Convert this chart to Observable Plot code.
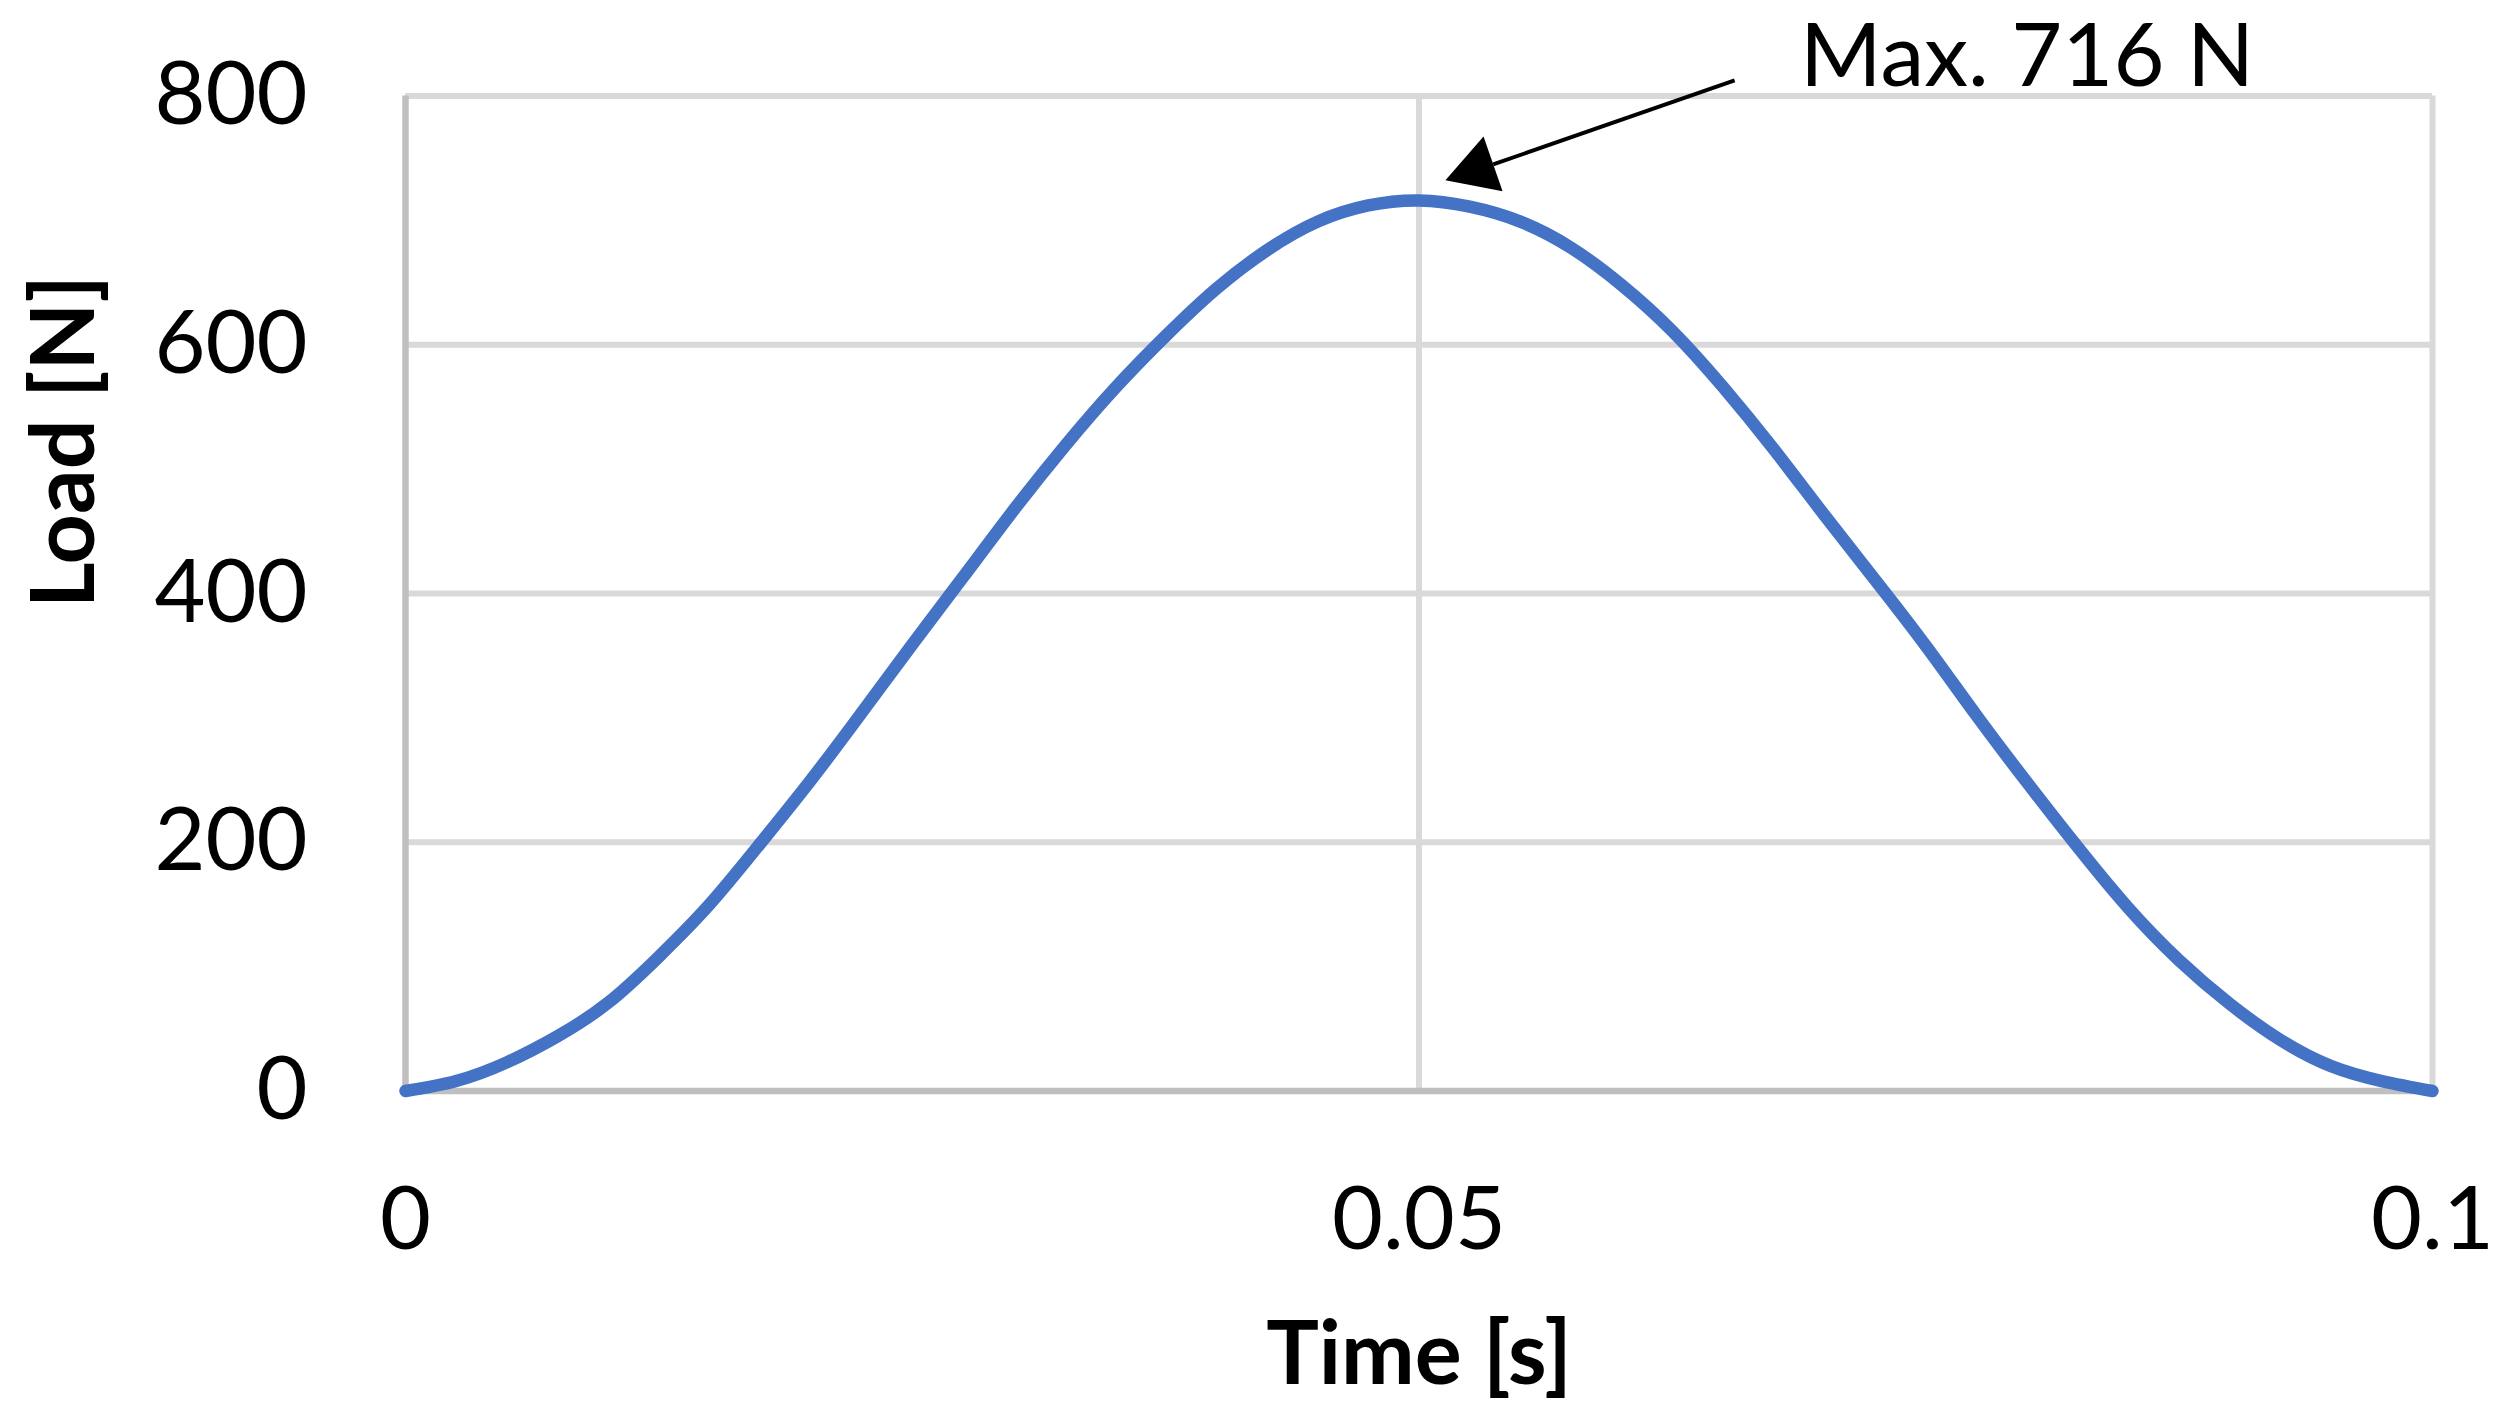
<!DOCTYPE html>
<html>
<head>
<meta charset="utf-8">
<script src="https://cdn.jsdelivr.net/npm/d3@7"></script>
<script src="https://cdn.jsdelivr.net/npm/@observablehq/plot@0.6"></script>
<style>
  html, body { margin: 0; padding: 0; background: #ffffff; }
  svg { display: block; }
</style>
</head>
<body>
<div id="chart"></div>
<script>
// ---- data ----
const time = [0, 0.0025, 0.005, 0.0075, 0.01, 0.0125, 0.015, 0.0175, 0.02, 0.0225,
  0.025, 0.0275, 0.03, 0.0325, 0.035, 0.0375, 0.04, 0.0425, 0.045, 0.0475,
  0.05, 0.0525, 0.055, 0.0575, 0.06, 0.0625, 0.065, 0.0675, 0.07, 0.0725,
  0.075, 0.0775, 0.08, 0.0825, 0.085, 0.0875, 0.09, 0.0925, 0.095, 0.0975, 0.1];
const load = [0, 8, 23, 44, 71, 108, 150, 199, 250, 304,
  359, 413, 467, 518, 565, 607, 645, 676, 699, 712,
  716, 711, 699, 678, 648, 611, 566, 516, 463, 411,
  358, 302, 248, 196, 147, 105, 70, 41, 20, 8, 0];

const xTicks = [0, 0.05, 0.1];
const yTicks = [0, 200, 400, 600, 800];
const xLabel = "Time [s]";
const yLabel = "Load [N]";

// annotation (data coordinates)
const noteText = ["Max. 716 N"];
const noteX = [0.0688];
const noteY = [808];
const arrowX1 = [0.06557];
const arrowY1 = [812.5];
const arrowX2 = [0.05366];
const arrowY2 = [745];
const headX = [0.05287];
const headY = [741];

const series = time.map((t, i) => ({t, v: load[i]}));
const note = noteText.map((s, i) => ({s, x: noteX[i], y: noteY[i]}));
const arrow = arrowX1.map((d, i) => ({x1: d, y1: arrowY1[i], x2: arrowX2[i], y2: arrowY2[i]}));
const head = headX.map((d, i) => ({x: d, y: headY[i]}));

const chart = Plot.plot({
  width: 2508,
  height: 1421,
  marginLeft: 405,
  marginRight: 76,
  marginTop: 95.5,
  marginBottom: 330.5,
  style: {fontFamily: "Lato, 'Open Sans', sans-serif", fontSize: "88px", color: "#000", background: "#fff"},
  x: {domain: [0, 0.1]},
  y: {domain: [0, 800]},
  marks: [
    Plot.ruleY(yTicks.filter(d => d > 0), {stroke: "#d9d9d9", strokeWidth: 6}),
    Plot.ruleX(xTicks.filter(d => d > 0), {stroke: "#d9d9d9", strokeWidth: 6}),
    Plot.ruleY([0], {stroke: "#bfbfbf", strokeWidth: 6.5}),
    Plot.ruleX([0], {stroke: "#bfbfbf", strokeWidth: 6.5}),
    Plot.line(series, {x: "t", y: "v", curve: "natural", stroke: "#4472c4", strokeWidth: 12.5, strokeLinecap: "round", strokeLinejoin: "round"}),
    Plot.link(arrow, {x1: "x1", y1: "y1", x2: "x2", y2: "y2", stroke: "#000", strokeWidth: 4}),
    Plot.dot(head, {x: "x", y: "y", symbol: "triangle", r: 21.6, fill: "#000", stroke: "none", rotate: 250.9}),
    Plot.text(note, {x: "x", y: "y", text: "s", textAnchor: "start", lineAnchor: "bottom", fill: "#000"}),
    Plot.axisX({ticks: xTicks, tickFormat: d => String(d), tickSize: 0, tickPadding: 96, label: null}),
    Plot.axisY({ticks: yTicks, tickFormat: d => String(d), tickSize: 0, tickPadding: 98, label: null}),
    Plot.text([xLabel], {frameAnchor: "bottom", dy: 292.5, textAnchor: "middle", lineAnchor: "bottom", fontWeight: "bold", fill: "#000"}),
    Plot.text([yLabel], {frameAnchor: "left", rotate: -90, dx: -312, dy: -152, textAnchor: "middle", lineAnchor: "bottom", fontWeight: "bold", fill: "#000"})
  ]
});
document.getElementById("chart").appendChild(chart);
</script>
</body>
</html>
